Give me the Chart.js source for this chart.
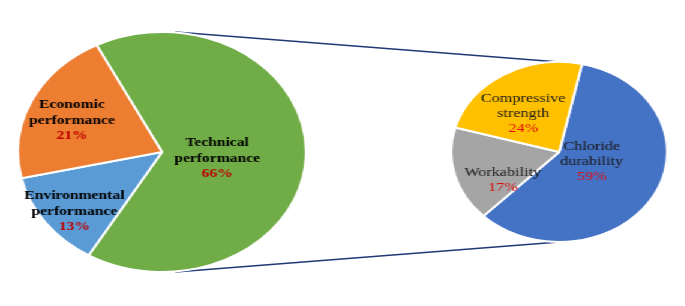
<!DOCTYPE html>
<html>
<head>
<meta charset="utf-8">
<script src="https://cdn.jsdelivr.net/npm/chart.js@4"></script>
<style>
  html, body { margin: 0; padding: 0; background: #fff; }
  body { width: 685px; height: 306px; overflow: hidden; }
  /* the original pies are stretched horizontally, so draw circles and stretch */
  #stage { position: absolute; left: 0; top: 0; width: 571px; height: 306px;
           transform: scaleX(1.2); transform-origin: 0 0; }
  #stage canvas { position: absolute; }
</style>
</head>
<body>
<div id="stage">
  <canvas id="links" width="571" height="306" style="left:0;top:0"></canvas>
  <canvas id="main" width="242" height="242" style="left:14px;top:31px"></canvas>
  <canvas id="sub" width="182" height="182" style="left:375px;top:61px"></canvas>
</div>
<script>
// ---- data ----
const mainLabels = [["Technical", "performance"], ["Environmental", "performance"], ["Economic", "performance"]];
const mainValues = [66, 13, 21];
const subLabels  = [["Chloride", "durability"], ["Workability"], ["Compressive", "strength"]];
const subValues  = [59, 17, 24];

// ---- styling ----
const mainColors = ["#70AD47", "#5B9BD5", "#ED7D31"];
const subColors  = ["#4472C4", "#A5A5A5", "#FFC000"];
// label anchor (first line) relative to pie centre, in px
const mainSpots = [[46, -9], [-73, 44], [-75, -47]];
const subSpots  = [[27, -6], [-47, 20], [-30, -54]];

// draws the multi-line labels + percentage inside each pie
const sliceText = {
  id: "sliceText",
  afterDatasetsDraw(chart, args, opts) {
    const { ctx } = chart;
    const arcs = chart.getDatasetMeta(0).data;
    const vals = chart.data.datasets[0].data;
    ctx.save();
    ctx.textAlign = "center";
    ctx.textBaseline = "middle";
    arcs.forEach((arc, i) => {
      const [dx, dy] = opts.spots[i];
      let y = arc.y + dy;
      ctx.font = opts.font;
      ctx.fillStyle = opts.color;
      chart.data.labels[i].forEach(line => {
        ctx.fillText(line, arc.x + dx, y);
        y += opts.lineHeight;
      });
      ctx.fillStyle = opts.pctColor;
      ctx.fillText(vals[i] + "%", arc.x + dx, y);
    });
    ctx.restore();
  }
};

function makePie(id, labels, values, colors, rotation, text) {
  return new Chart(document.getElementById(id), {
    type: "pie",
    data: {
      labels,
      datasets: [{ data: values, backgroundColor: colors, borderColor: "#fff", borderWidth: 2 }]
    },
    options: {
      responsive: false,
      animation: false,
      rotation,
      layout: { padding: 0 },
      plugins: { legend: { display: false }, tooltip: { enabled: false }, sliceText: text }
    },
    plugins: [sliceText]
  });
}

const main = makePie("main", mainLabels, mainValues, mainColors, -27, {
  spots: mainSpots, font: "bold 13px 'Liberation Serif', 'Times New Roman', serif",
  color: "#000", pctColor: "#C00000", lineHeight: 15.5
});
const sub = makePie("sub", subLabels, subValues, subColors, 12.2, {
  spots: subSpots, font: "13.5px 'Liberation Serif', 'Times New Roman', serif",
  color: "#1a1a1a", pctColor: "#E01010", lineHeight: 15
});

// ---- connector lines between the two pies ----
function drawLinks() {
  const a = main.getDatasetMeta(0).data[0];
  const b = sub.getDatasetMeta(0).data[0];
  const mc = main.canvas, sc = sub.canvas;
  const ax = mc.offsetLeft + a.x + 11, ay = mc.offsetTop + a.y;
  const bx = sc.offsetLeft + b.x,      by = sc.offsetTop + b.y;
  const ctx = document.getElementById("links").getContext("2d");
  ctx.strokeStyle = "#1F3A75";
  ctx.lineWidth = 1.4;
  ctx.beginPath();
  ctx.moveTo(ax, ay - a.outerRadius);
  ctx.lineTo(bx, by - b.outerRadius);
  ctx.moveTo(ax, ay + a.outerRadius);
  ctx.lineTo(bx, by + b.outerRadius);
  ctx.stroke();
}
drawLinks();
</script>
</body>
</html>
